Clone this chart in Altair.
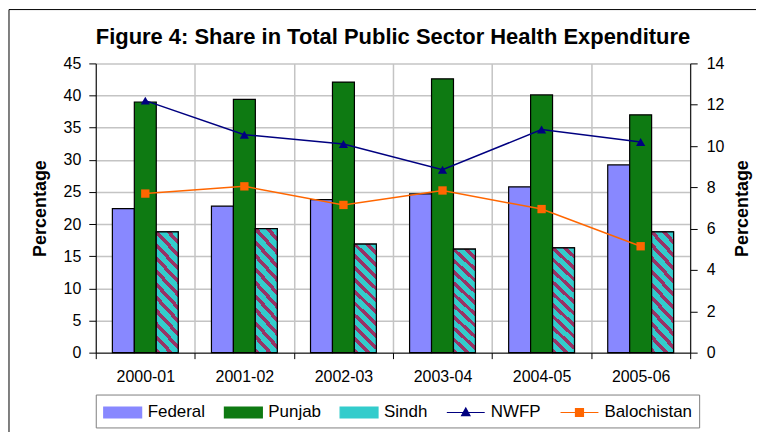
import altair as alt
import pandas as pd

years = ["2000-01", "2001-02", "2002-03", "2003-04", "2004-05", "2005-06"]
federal = [22.4, 22.8, 23.8, 24.7, 25.8, 29.2]
punjab = [39.0, 39.4, 42.1, 42.6, 40.1, 37.0]
sindh = [18.8, 19.3, 16.9, 16.1, 16.3, 18.8]
nwfp = [12.2, 10.55, 10.1, 8.85, 10.8, 10.2]
balochistan = [7.7, 8.05, 7.15, 7.85, 6.95, 5.15]

bar_series = ["Federal", "Punjab", "Sindh"]
line_series = ["NWFP", "Balochistan"]
all_series = bar_series + line_series
colors = ["#8888FF", "#0E7A12", "#33CCCC", "#000080", "#FF6600"]

bars_df = pd.DataFrame(
    [(y, s, v) for s, vals in zip(bar_series, [federal, punjab, sindh]) for y, v in zip(years, vals)],
    columns=["year", "series", "value"],
)
lines_df = pd.DataFrame(
    [(y, s, v) for s, vals in zip(line_series, [nwfp, balochistan]) for y, v in zip(years, vals)],
    columns=["year", "series", "value"],
)

FONT = "Liberation Sans"
CYAN, MAROON = "#33CCCC", "#993366"


def stripe_gradient(x2, y2, n, frac=0.4):
    stops = []
    for i in range(n):
        a = i / n
        b = (i + frac) / n
        stops += [
            {"offset": a, "color": MAROON},
            {"offset": b, "color": MAROON},
            {"offset": b, "color": CYAN},
            {"offset": (i + 1) / n, "color": CYAN},
        ]
    return {"gradient": "linear", "x1": 0, "y1": 1, "x2": x2, "y2": y2, "stops": stops}


bar_grad = stripe_gradient(0.2258, -0.152, 11)

x_axis = alt.Axis(
    title=None, tickBand="extent", grid=True, gridColor="#C4C4C4", gridWidth=1.5,
    domainColor="#000000", tickColor="#000000", tickSize=6, labelPadding=10,
    labelFontSize=16, labelColor="#000000", labelAngle=0,
)
x_enc = alt.X("year:N", sort=years, scale=alt.Scale(paddingInner=0, paddingOuter=0), axis=x_axis)

bar_path = "M-1,-0.55H2.8V0.55H-1Z"
nwfp_path = "M-1,0H2.8M0.9,-0.45L1.32,0.32H0.48Z"
bal_path = "M-1,0H2.8M0.5,-0.4H1.3V0.4H0.5Z"

shape_expr = (
    f"datum.value === 'NWFP' ? '{nwfp_path}' : "
    f"(datum.value === 'Balochistan' ? '{bal_path}' : '{bar_path}')"
)
stroke_expr = (
    f"datum.value === 'NWFP' ? '{colors[3]}' : "
    f"(datum.value === 'Balochistan' ? '{colors[4]}' : '#000000')"
)

legend = alt.Legend(
    title=None, orient="bottom", direction="horizontal", offset=10,
    labelFontSize=17, labelFont=FONT, labelColor="#000000", labelOffset=23,
    symbolSize=400, columnPadding=16, padding=7,
    strokeColor="#808080", fillColor="#FFFFFF",
    symbolType=alt.ExprRef(shape_expr),
    symbolStrokeColor=alt.ExprRef(stroke_expr),
    symbolStrokeWidth=1.2, symbolOpacity=1,
)

color_scale = alt.Scale(domain=all_series, range=colors)
xoff = alt.XOffset("series:N", sort=bar_series,
                   scale=alt.Scale(domain=bar_series, paddingOuter=0.757, paddingInner=0))
y_left = alt.Y(
    "value:Q",
    scale=alt.Scale(domain=[0, 45], nice=False),
    axis=alt.Axis(
        title="Percentage", values=list(range(0, 50, 5)), grid=True, gridColor="#C4C4C4",
        gridWidth=1.5, domainColor="#000000", tickColor="#000000", tickSize=7,
        labelPadding=8, labelFontSize=16, labelColor="#000000", titleFontSize=18,
        titleFontWeight="bold", titlePadding=14, titleColor="#000000",
    ),
)

bars = alt.Chart(bars_df).mark_bar(stroke="#000000", strokeWidth=1.2, opacity=1).encode(
    x=x_enc,
    xOffset=xoff,
    y=y_left,
    color=alt.Color("series:N", scale=color_scale, legend=legend),
)
sindh_overlay = alt.Chart(bars_df).transform_filter(alt.datum.series == "Sindh").mark_bar(
    stroke="#000000", strokeWidth=1.2, opacity=1
).encode(
    x=x_enc,
    xOffset=xoff,
    y=y_left,
    fill=alt.value(bar_grad),
)

y_right = alt.Y(
    "value:Q",
    scale=alt.Scale(domain=[0, 14], nice=False),
    axis=alt.Axis(
        title="Percentage", orient="right", values=list(range(0, 16, 2)), grid=False,
        domainColor="#000000", tickColor="#000000", tickSize=7, labelPadding=9,
        labelFontSize=16, labelColor="#000000", titleFontSize=18, titleFontWeight="bold",
        titlePadding=28, titleAngle=270, titleColor="#000000",
    ),
)

lines = alt.Chart(lines_df).mark_line(strokeWidth=1.5).encode(
    x=x_enc,
    y=y_right,
    color=alt.Color("series:N", scale=color_scale, legend=None),
)
nwfp_pts = alt.Chart(lines_df).transform_filter(alt.datum.series == "NWFP").mark_point(
    shape="triangle-up", filled=True, size=85, color=colors[3], opacity=1
).encode(x=x_enc, y=y_right)
bal_pts = alt.Chart(lines_df).transform_filter(alt.datum.series == "Balochistan").mark_point(
    shape="square", filled=True, size=70, color=colors[4], opacity=1
).encode(x=x_enc, y=y_right)

frame_df = pd.DataFrame({"k": [0]})
frame_left = alt.Chart(frame_df).mark_rule(color="#000000", strokeWidth=1).encode(
    x=alt.value(-87), y=alt.value(-54), y2=alt.value(370)
)
frame_top = alt.Chart(frame_df).mark_rule(color="#000000", strokeWidth=1).encode(
    x=alt.value(-87), x2=alt.value(662), y=alt.value(-54)
)

left = alt.layer(bars, sindh_overlay)
right = alt.layer(lines, nwfp_pts, bal_pts)

chart = alt.layer(left, right, frame_left, frame_top).resolve_scale(
    y="independent"
).properties(
    width=596,
    height=290,
    padding={"left": 0, "top": 0, "right": 0, "bottom": 0},
    title=alt.TitleParams(
        "Figure 4: Share in Total Public Sector Health Expenditure",
        fontSize=22, fontWeight="bold", font=FONT, anchor="middle", frame="group",
        offset=-40, color="#000000",
    ),
).configure(font=FONT).configure_view(strokeWidth=0)

chart.save("out.html", embed_options={"renderer": "svg", "actions": False})
